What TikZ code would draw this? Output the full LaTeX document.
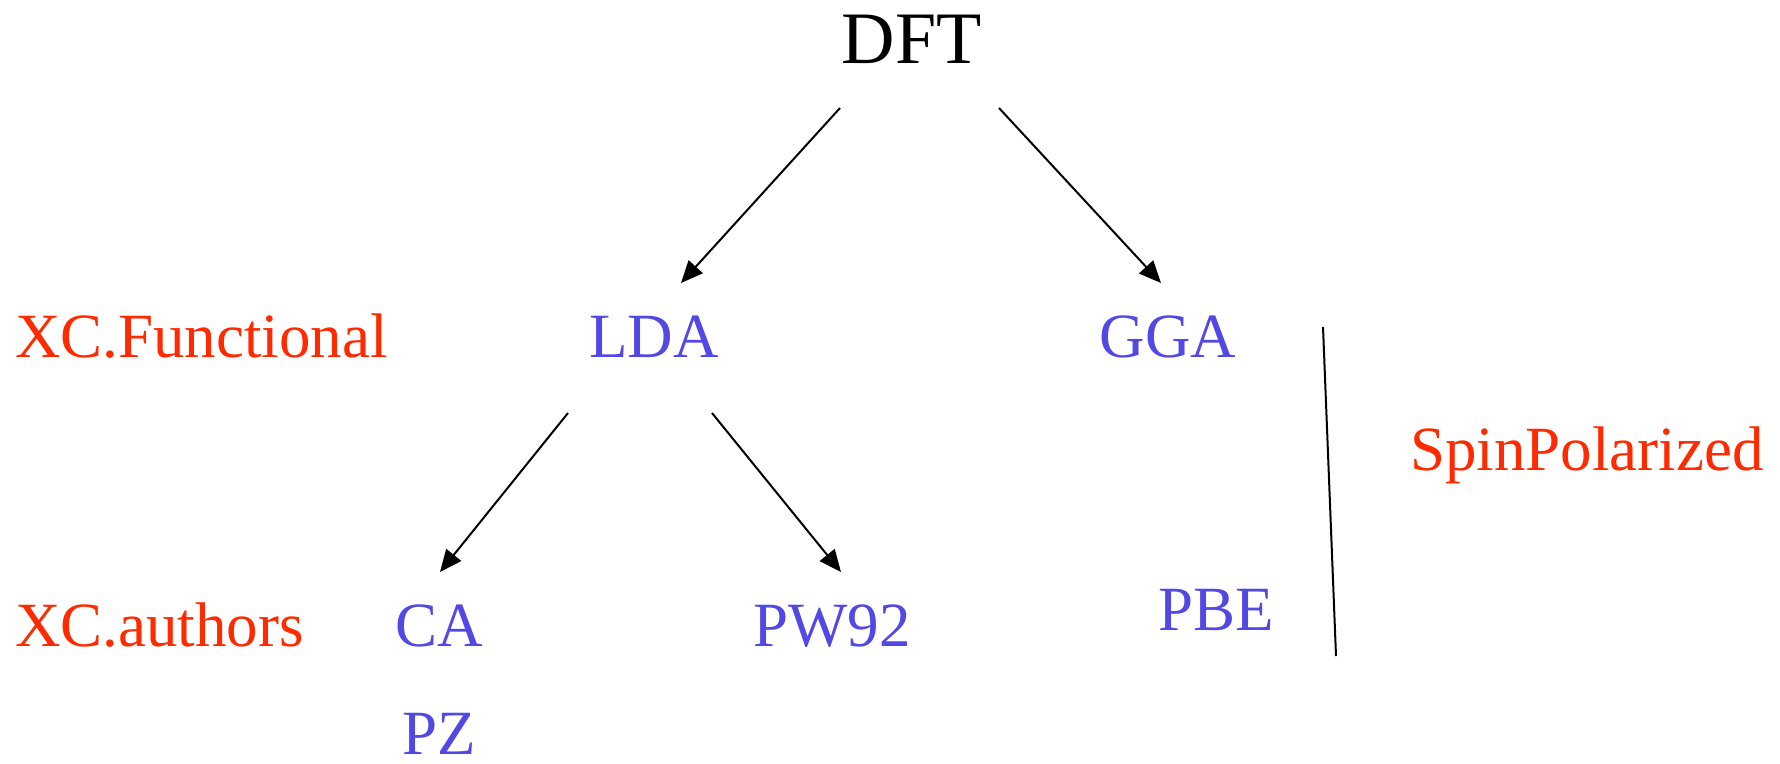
\documentclass[tikz,border=0pt]{standalone}
\usepackage{fontspec}
\setmainfont{Liberation Serif}
\usetikzlibrary{arrows.meta,calc}
\definecolor{redlab}{RGB}{255,42,0}
\definecolor{bluelab}{RGB}{82,72,228}
\begin{document}
\begin{tikzpicture}[x=1pt,y=-1pt,
  lab/.style={inner sep=0pt,outer sep=0pt,anchor=base,font=\fontsize{63}{70}\selectfont},
  redtext/.style={lab,text=redlab,anchor=base west},
  bluetext/.style={lab,text=bluelab},
  arr/.style={line width=2pt,-{Triangle[length=22pt,width=19pt]}}]
\useasboundingbox (0,0) rectangle (1780,763);
\node[lab,font=\fontsize{74}{80}\selectfont] (dft) at (911.5,63) {DFT};
\node[redtext] (xcf) at (15,357) {XC.Functional};
\node[bluetext] (lda) at (654,357) {LDA};
\node[bluetext] (gga) at (1168,357) {GGA};
\node[redtext] (spin) at (1410,470) {SpinPolarized};
\node[redtext] (xca) at (15,646) {XC.authors};
\node[bluetext] (ca) at (439,646) {CA};
\node[bluetext] (pz) at (439,754) {PZ};
\node[bluetext] (pw) at (832,646) {PW92};
\node[bluetext] (pbe) at (1216,630) {PBE};
\draw[arr] ($(dft.base)+(-71.5,45)$) -- ($(lda.base)+(27,-74)$);
\draw[arr] ($(dft.base)+(87.5,45)$) -- ($(gga.base)+(-7,-74)$);
\draw[arr] ($(lda.base)+(-86,56)$) -- ($(ca.base)+(1,-74)$);
\draw[arr] ($(lda.base)+(58,56)$) -- ($(pw.base)+(9,-74)$);
\coordinate (l1) at (1323,327);
\coordinate (l2) at (1336,656);
\draw[line width=2pt] (l1) -- (l2);
\end{tikzpicture}
\end{document}
